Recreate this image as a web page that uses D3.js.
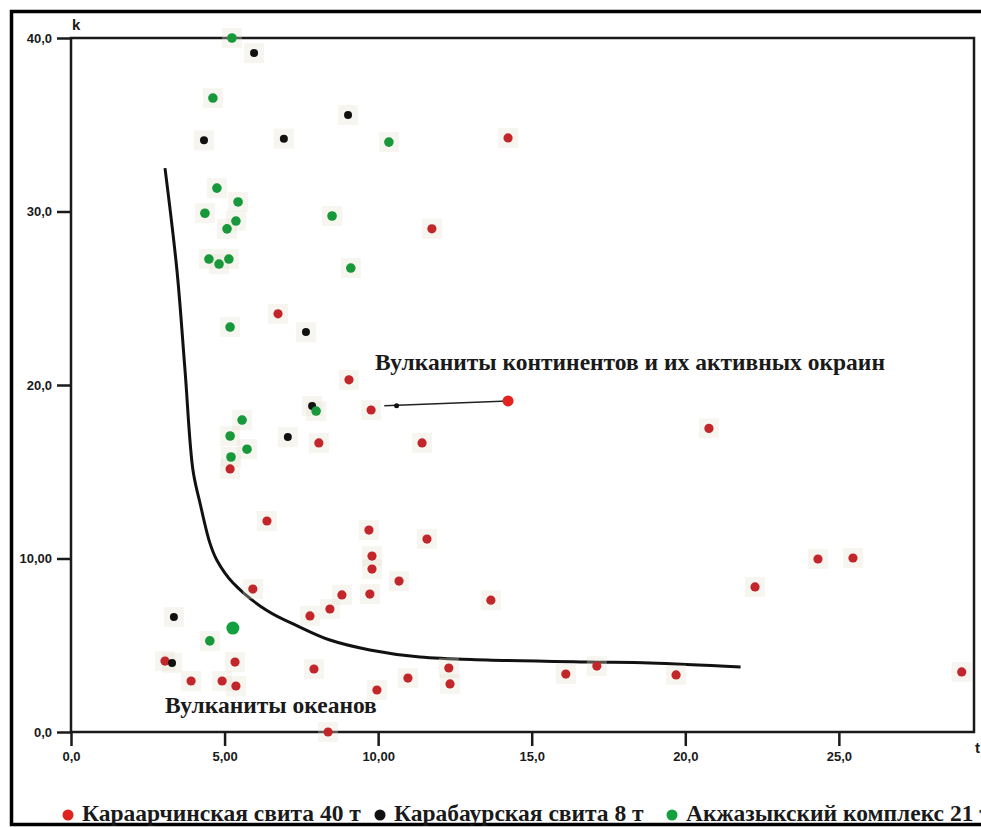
<!DOCTYPE html>
<html>
<head>
<meta charset="utf-8">
<script src="https://cdn.jsdelivr.net/npm/d3@7"></script>
<style>
  body { margin: 0; background: #fff; }
  svg { display: block; }
  .tick-lbl { font-family: "Liberation Sans Narrow", "Liberation Sans", sans-serif; font-weight: bold; font-size: 13px; fill: #1a1a1a; }
  .note { font-family: "Liberation Serif", "DejaVu Serif", serif; font-weight: bold; fill: #1a1a1a; }
</style>
</head>
<body>
<div id="chart"></div>
<script>
const W = 981, H = 827;

// tick values and their labels (as printed on the original)
const xTicks = [0, 5, 10, 15, 20, 25];
const xTickLabels = ["0,0", "5,00", "10,00", "15,0", "20,0", "25,0"];
const yTicks = [0, 10, 20, 30, 40];
const yTickLabels = ["0,0", "10,00", "20,0", "30,0", "40,0"];

// Караарчинская свита
const redX = [14.23, 11.75, 6.74, 9.05, 9.77, 8.07, 11.43, 5.18, 20.77, 6.38,
  9.7, 11.59, 9.8, 9.8, 9.73, 10.68, 8.82, 8.43, 7.78, 5.92,
  13.67, 22.27, 24.32, 25.46, 29.0, 19.7, 16.11, 17.12, 12.3, 12.34,
  10.97, 9.96, 7.91, 8.37, 5.34, 3.91, 4.92, 5.37, 3.06];
const redY = [34.24, 29.0, 24.1, 20.3, 18.56, 16.66, 16.66, 15.16, 17.5, 12.16,
  11.64, 11.12, 10.14, 9.39, 7.95, 8.7, 7.9, 7.09, 6.69, 8.24,
  7.6, 8.36, 9.97, 10.03, 3.46, 3.29, 3.34, 3.8, 3.69, 2.77,
  3.11, 2.42, 3.63, 0.0, 4.03, 2.94, 2.94, 2.65, 4.09];

// Карабаурская свита
const blackX = [5.96, 4.33, 6.93, 9.02, 7.65, 7.85, 7.06, 3.35, 3.29];
const blackY = [39.13, 34.1, 34.2, 35.56, 23.05, 18.79, 17.0, 6.63, 3.98];

// Акжазыкский комплекс
const greenX = [5.24, 4.62, 4.75, 5.44, 4.36, 5.37, 5.08, 4.49, 4.82, 5.14,
  8.5, 10.35, 9.11, 5.18, 5.57, 5.18, 5.73, 5.21, 7.98, 4.52];
const greenY = [40.0, 36.54, 31.35, 30.55, 29.9, 29.45, 29.0, 27.26, 26.97, 27.26,
  29.74, 34.0, 26.74, 23.34, 17.98, 17.06, 16.3, 15.85, 18.5, 5.25];

// highlighted points without the scan halo
const markedRed = [14.23, 19.08];
const markedGreen = [5.27, 5.99];

// boundary curve between fields
const curveX = [3.06, 3.45, 3.71, 3.97, 4.2, 4.52, 4.75, 5.27, 6.38, 7.45, 8.43, 9.73, 11.36, 13.54, 16.8, 18.85, 21.8];
const curveY = [32.5, 26.6, 20.9, 15.1, 13.2, 10.9, 9.9, 8.6, 7.0, 6.05, 5.3, 4.73, 4.32, 4.15, 4.03, 3.98, 3.75];

const legendNames = ["Караарчинская свита 40 т", "Карабаурская свита 8 т", "Акжазыкский комплекс 21 т"];
const colors = { red: "#c3262a", black: "#111111", green: "#17983a" };
const legendColors = ["#e0221f", "#111111", "#13a03f"];

const svg = d3.select("#chart").append("svg")
    .attr("width", W)
    .attr("height", H);

// outer frame (cut off on the right as in the scan)
svg.append("rect")
    .attr("x", 11.5).attr("y", 11.5)
    .attr("width", 1000).attr("height", 813)
    .attr("fill", "none").attr("stroke", "#000").attr("stroke-width", 3.5);

const x = d3.scaleLinear().domain([0, 29.4]).range([71, 974]);
const y = d3.scaleLinear().domain([0, 40]).range([732, 38]);

// plot box
svg.append("rect")
    .attr("x", x(0)).attr("y", y(40))
    .attr("width", x(29.4) - x(0)).attr("height", y(0) - y(40))
    .attr("fill", "none").attr("stroke", "#1a1a1a").attr("stroke-width", 2.5);

// axes
const xAxis = d3.axisBottom(x).tickValues(xTicks).tickSize(14).tickPadding(6)
    .tickFormat((d, i) => xTickLabels[i]);
const gx = svg.append("g").attr("transform", `translate(0,${y(0)})`).call(xAxis);
gx.select(".domain").remove();
gx.selectAll("line").attr("stroke", "#1a1a1a").attr("stroke-width", 2.5);
gx.selectAll("text").attr("class", "tick-lbl");

const yAxis = d3.axisLeft(y).tickValues(yTicks).tickSize(14).tickPadding(5)
    .tickFormat((d, i) => yTickLabels[i]);
const gy = svg.append("g").attr("transform", `translate(${x(0)},0)`).call(yAxis);
gy.select(".domain").remove();
gy.selectAll("line").attr("stroke", "#1a1a1a").attr("stroke-width", 2.5);
gy.selectAll("text").attr("class", "tick-lbl");

svg.append("text").attr("class", "tick-lbl").attr("x", x(0) + 1).attr("y", y(40) - 8)
    .style("font-size", "15px").text("k");
svg.append("text").attr("class", "tick-lbl").attr("x", x(29.4) + 1).attr("y", y(0) + 21)
    .style("font-size", "15px").text("t");

// boundary curve
const curveData = curveX.map((d, i) => [d, curveY[i]]);
svg.append("path")
    .datum(curveData)
    .attr("fill", "none")
    .attr("stroke", "#111")
    .attr("stroke-width", 3)
    .attr("d", d3.line().x(d => x(d[0])).y(d => y(d[1])).curve(d3.curveCatmullRom.alpha(0.5)));

// scan halos behind the points
const allPts = []
    .concat(redX.map((d, i) => ({ x: d, y: redY[i], c: colors.red, r: 4.6 })))
    .concat(blackX.map((d, i) => ({ x: d, y: blackY[i], c: colors.black, r: 4 })))
    .concat(greenX.map((d, i) => ({ x: d, y: greenY[i], c: colors.green, r: 4.8 })));

svg.append("g").selectAll("rect")
    .data(allPts)
    .enter()
    .append("rect")
    .attr("x", d => x(d.x) - 10)
    .attr("y", d => y(d.y) - 10)
    .attr("width", 20).attr("height", 20)
    .attr("fill", "#e6e1cf")
    .attr("opacity", 0.32);

// leader from the marked red point
svg.append("line")
    .attr("x1", x(10.2)).attr("y1", y(18.8))
    .attr("x2", x(markedRed[0])).attr("y2", y(markedRed[1]))
    .attr("stroke", "#222").attr("stroke-width", 1.5);
svg.append("circle").attr("cx", x(10.6)).attr("cy", y(18.8)).attr("r", 2.5).attr("fill", "#111");

svg.append("g").selectAll("circle")
    .data(allPts)
    .enter()
    .append("circle")
    .attr("cx", d => x(d.x))
    .attr("cy", d => y(d.y))
    .attr("r", d => d.r)
    .attr("fill", d => d.c);

svg.append("circle").attr("cx", x(markedRed[0])).attr("cy", y(markedRed[1])).attr("r", 5.5).attr("fill", "#e2231f");
svg.append("circle").attr("cx", x(markedGreen[0])).attr("cy", y(markedGreen[1])).attr("r", 6.5).attr("fill", "#13a03f");

// field labels
svg.append("text").attr("class", "note").attr("x", 375).attr("y", 370)
    .style("font-size", "23.5px").text("Вулканиты континентов и их активных окраин");
svg.append("text").attr("class", "note").attr("x", 165).attr("y", 713)
    .style("font-size", "23.5px").text("Вулканиты океанов");

// legend
const legX = [68, 380, 672];
const leg = svg.append("g");
legendNames.forEach((name, i) => {
    leg.append("circle").attr("cx", legX[i]).attr("cy", 815).attr("r", 5.5).attr("fill", legendColors[i]);
    leg.append("text").attr("class", "note").attr("x", legX[i] + 14).attr("y", 821)
        .style("font-size", "23.5px").text(name);
});
</script>
</body>
</html>
